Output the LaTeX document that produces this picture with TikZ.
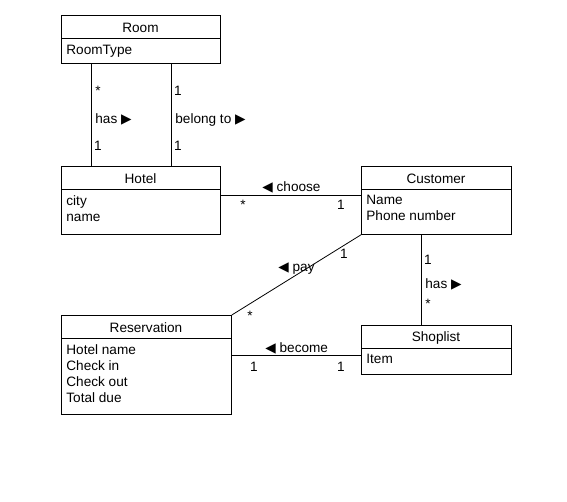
\documentclass[tikz,border=0pt]{standalone}
\usepackage{fontspec}
\setmainfont{Liberation Sans}
\newfontfamily\symfont{DejaVu Sans}
\usetikzlibrary{positioning}

\begin{document}
\begin{tikzpicture}[x=1pt, y=-1pt, line width=0.8pt]
\tikzstyle{box}=[draw, anchor=north west, inner sep=0pt]
\tikzstyle{title}=[font=\fontsize{13.6}{16}\selectfont, inner sep=0pt]
\tikzstyle{attr}=[font=\fontsize{13.6}{16}\selectfont, align=left, anchor=north west, inner sep=0pt]
\tikzstyle{lab}=[font=\fontsize{13.6}{16}\selectfont, anchor=base west, inner sep=0pt]
\tikzstyle{mult}=[font=\fontsize{13.6}{16}\selectfont, anchor=base, inner sep=0pt]
\useasboundingbox (0,0) rectangle (567,501);

% classes
\node[box, minimum width=159pt, minimum height=48pt] (room) at (61,15) {};
\node[title] (roomname) at (140.5,27.5) {Room};
\draw (61,38) -- (220,38);
\node[attr] (roomattr) at (66,45) {RoomType};

\node[box, minimum width=159pt, minimum height=68pt] (hotel) at (61,166) {};
\node[title] (hotelname) at (140.5,178.5) {Hotel};
\draw (61,189) -- (220,189);
\node[attr] (hotelattr) at (66,195) {city\\name};

\node[box, minimum width=150pt, minimum height=68pt] (customer) at (361,166) {};
\node[title] (customername) at (436,178.5) {Customer};
\draw (361,189) -- (511,189);
\node[attr] (customerattr) at (366,195) {Name\\Phone number};

\node[box, minimum width=170pt, minimum height=99pt] (reservation) at (61,315) {};
\node[title] (reservationname) at (146,327.5) {Reservation};
\draw (61,338) -- (231,338);
\node[attr] (reservationattr) at (66,344) {Hotel name\\Check in\\Check out\\Total due};

\node[box, minimum width=150pt, minimum height=49pt] (shoplist) at (361,325) {};
\node[title] (shoplistname) at (436,337.5) {Shoplist};
\draw (361,348) -- (511,348);
\node[attr] (shoplistattr) at (366,354) {Item};

% associations
\draw ([xshift=30pt]room.south west) -- ([xshift=30pt]hotel.north west);
\draw ([xshift=110pt]room.south west) -- ([xshift=110pt]hotel.north west);
\draw ([yshift=-29pt]hotel.north east) -- ([yshift=-29pt]customer.north west);
\draw (customer.south west) -- (reservation.north east);
\draw ([xshift=60pt]customer.south west) -- ([xshift=60pt]shoplist.north west);
\draw ([yshift=-40pt]reservation.north east) -- ([yshift=-30pt]shoplist.north west);

% labels
\node[mult] (m1) at (98,95) {*};
\node[lab] (l1) at (95,123) {has {\symfont ▶}};
\node[mult] (m2) at (98,150) {1};
\node[mult] (m3) at (178,95) {1};
\node[lab] (l2) at (175,123) {belong to {\symfont ▶}};
\node[mult] (m4) at (178,150) {1};

\node[lab] (l3) at (262,191) {{\symfont ◀} choose};
\node[mult] (m5) at (243,209) {*};
\node[mult] (m6) at (341,209) {1};

\node[mult] (m7) at (344,258) {1};
\node[lab] (l4) at (278,271) {{\symfont ◀} pay};
\node[mult] (m8) at (250,320) {*};

\node[mult] (m9) at (428,264) {1};
\node[lab] (l5) at (425,288) {has {\symfont ▶}};
\node[mult] (m10) at (428,308) {*};

\node[lab] (l6) at (265,352) {{\symfont ◀} become};
\node[mult] (m11) at (254,371) {1};
\node[mult] (m12) at (341,371) {1};
\end{tikzpicture}
\end{document}
